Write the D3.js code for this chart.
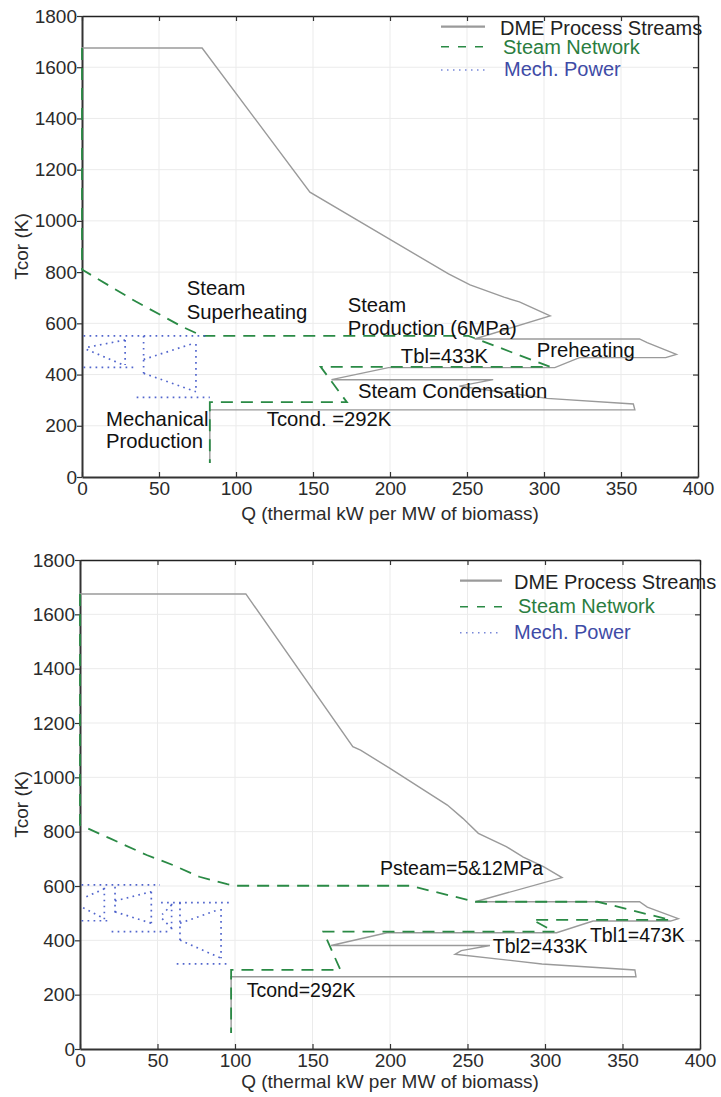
<!DOCTYPE html>
<html><head><meta charset="utf-8">
<script src="https://cdn.jsdelivr.net/npm/d3@7"></script>
<style>
body{margin:0;background:#fff}
svg{display:block}
text{font-family:"Liberation Sans",Arial,Helvetica,sans-serif}
</style>
</head><body>
<svg id="c" width="721" height="1097"></svg>
<script>
// ---------- shared ticks / labels ----------
const xTicks = [0, 50, 100, 150, 200, 250, 300, 350, 400];
const yTicks = [0, 200, 400, 600, 800, 1000, 1200, 1400, 1600, 1800];
const xTitle = "Q (thermal kW per MW of biomass)";
const yTitle = "Tcor (K)";
const legendLabels = ["DME Process Streams", "Steam Network", "Mech. Power"];

// ---------- top chart data (Q, T) ----------
const processTop = [[0,1675],[78,1675],[148,1112],[238,793],[252,750],[274,702],[284,684],[304,629],[255,539],[362,539],[367,525],[386,479],[379,466],[323,466],[307,427],[199,427],[162,380],[267,380],[245,355],[302,307],[358,285],[359,262],[83,262],[83,55]];
const steamTop = [[0,1675],[0,810],[35,685],[65,587],[78,551],[251,551],[304,430],[155,430],[172,292],[83,292],[83,55]];
const mechTop = [
  [[1,551],[81,551]],
  [[28,535],[3,506]],
  [[3,498],[27,437]],
  [[28,535],[28,437]],
  [[1,428],[35.5,428]],
  [[40,551],[40,405]],
  [[40,459],[71,519]],
  [[74,519],[74,333]],
  [[40,405],[74,333]],
  [[35.5,311],[83,311]]
];
const labelsTop = [
  ["Steam", 68, 711], ["Superheating", 68, 616],
  ["Steam", 172.5, 645], ["Production (6MPa)", 172.5, 554],
  ["Tbl=433K", 207, 444], ["Preheating", 295.3, 470],
  ["Steam Condensation", 179.2, 307], ["Tcond. =292K", 120, 200],
  ["Mechanical", 15.6, 200], ["Production", 15.6, 112]
];

// ---------- bottom chart data (Q, T) ----------
const processBottom = [[0,1675],[107,1675],[176,1113],[181,1100],[200,1033],[237,898],[247,849],[257,794],[275,745],[286,706],[299,671],[311,631],[255,542],[361,542],[366,522],[386,480],[381,471],[331,471],[307.5,428],[198,428],[162,381],[264.5,381],[246,362],[242,349],[298,313],[358,291],[358.7,266],[97.5,266],[97.5,59]];
const steamBottom = [[0,1675],[0,825],[19,776],[43,714],[60,677],[77,634],[95,607],[100,601],[213,601],[255,542],[334,542],[381,475],[292,475],[306,432],[157,432],[168,291],[97.5,291],[97.5,59]];
const mechBottom = [
  [[1,604],[51.6,604]],
  [[15.7,594],[15.7,475]],
  [[15.7,590],[2,555]],
  [[2,520],[15.7,480]],
  [[1,472],[18.3,472]],
  [[22.6,597],[22.6,487]],
  [[22.6,545],[46,579]],
  [[46,579],[46,463]],
  [[22.6,505],[46,463]],
  [[20.4,432],[59,432]],
  [[52.3,539],[96.8,539]],
  [[59.1,535],[59.1,432]],
  [[59.1,530],[53,495]],
  [[53,480],[59.1,445]],
  [[64.5,539],[64.5,401]],
  [[64.5,463],[88,510]],
  [[91,515],[91,334]],
  [[64.5,401],[91,334]],
  [[62.4,313],[94.6,313]]
];
const labelsBottom = [
  ["Tcond=292K", 107.5, 192], ["Psteam=5&12MPa", 193.5, 640],
  ["Tbl2=433K", 266.3, 352], ["Tbl1=473K", 329, 395]
];

// ---------- styles ----------
const GREY = "#9a9a9a", GREEN = "#2a8a45", BLUE = "#3f55c8";
const GREEN_TXT = "#2a7d40", BLUE_TXT = "#3e4ba6";

const svg = d3.select("#c");

function drawChart(cfg) {
  const x = d3.scaleLinear().domain([0, 400]).range([cfg.left, cfg.right]);
  const y = d3.scaleLinear().domain([0, 1800]).range([cfg.bottom, cfg.top]);
  const g = svg.append("g");

  // grid
  g.append("g").selectAll("line").data(xTicks.slice(1, -1)).join("line")
    .attr("x1", d => x(d)).attr("x2", d => x(d)).attr("y1", cfg.top).attr("y2", cfg.bottom)
    .attr("stroke", "#ebebeb").attr("stroke-width", 1);
  g.append("g").selectAll("line").data(yTicks.slice(1, -1)).join("line")
    .attr("y1", d => y(d)).attr("y2", d => y(d)).attr("x1", cfg.left).attr("x2", cfg.right)
    .attr("stroke", "#ebebeb").attr("stroke-width", 1);

  // axes
  const top = g.append("g").attr("transform", `translate(0,${cfg.top})`)
    .call(d3.axisTop(x).tickValues(xTicks).tickSizeInner(-5).tickSizeOuter(0).tickFormat(""));
  const right = g.append("g").attr("transform", `translate(${cfg.right},0)`)
    .call(d3.axisRight(y).tickValues(yTicks).tickSizeInner(-5).tickSizeOuter(0).tickFormat(""));
  [top, right].forEach(a => {
    a.select(".domain").attr("stroke", "#222").attr("stroke-width", 1.4);
    a.selectAll(".tick line").attr("stroke", "#333").attr("stroke-width", 1.2);
  });
  const bottom = g.append("g").attr("transform", `translate(0,${cfg.bottom})`)
    .call(d3.axisBottom(x).tickValues(xTicks).tickFormat(d3.format("d"))
      .tickSizeInner(-5).tickSizeOuter(0).tickPadding(4.5));
  const left = g.append("g").attr("transform", `translate(${cfg.left},0)`)
    .call(d3.axisLeft(y).tickValues(yTicks).tickFormat(d3.format("d"))
      .tickSizeInner(5).tickSizeOuter(0).tickPadding(0));
  [bottom, left].forEach(a => {
    a.select(".domain").attr("stroke", "#333").attr("stroke-width", 2);
    a.selectAll(".tick line").attr("stroke", "#333").attr("stroke-width", 1.2);
    a.selectAll(".tick text").attr("fill", "#2b2b2b").attr("font-size", 19)
      .attr("font-family", "Liberation Sans, Arial, sans-serif");
  });

  // axis titles
  g.append("text").attr("x", (cfg.left + cfg.right) / 2).attr("y", cfg.xTitleY)
    .attr("text-anchor", "middle").attr("font-size", 19).attr("fill", "#2b2b2b").text(xTitle);
  g.append("text").attr("transform", `translate(${cfg.yTitleX},${(cfg.top + cfg.bottom) / 2}) rotate(-90)`)
    .attr("text-anchor", "middle").attr("font-size", 19).attr("fill", "#2b2b2b").text(yTitle);

  const line = d3.line().x(d => x(d[0])).y(d => y(d[1]));

  // process streams
  g.append("path").datum(cfg.process).attr("d", line)
    .attr("fill", "none").attr("stroke", GREY).attr("stroke-width", 1.4).attr("stroke-linejoin", "miter");
  // steam network
  g.append("path").datum(cfg.steam).attr("d", line)
    .attr("fill", "none").attr("stroke", GREEN).attr("stroke-width", 1.8).attr("stroke-dasharray", "12,8");
  // mech power
  g.append("g").selectAll("path").data(cfg.mech).join("path").attr("d", line)
    .attr("fill", "none").attr("stroke", BLUE).attr("stroke-width", 1.7)
    .attr("stroke-dasharray", "1.7,4.3").attr("opacity", 0.9);

  // annotations
  g.append("g").selectAll("text").data(cfg.labels).join("text")
    .attr("x", d => x(d[1])).attr("y", d => y(d[2]))
    .attr("font-size", cfg.labelSize).attr("fill", "#111").text(d => d[0]);

  // legend
  const L = cfg.legend;
  const styles = [
    {stroke: GREY, dash: null, w: 2.2, fill: "#222"},
    {stroke: GREEN, dash: "8,9", w: 1.6, fill: GREEN_TXT},
    {stroke: BLUE, dash: "1.5,4.5", w: 1.6, fill: BLUE_TXT}
  ];
  legendLabels.forEach((lab, i) => {
    const s = styles[i];
    g.append("line").attr("x1", L.x0).attr("x2", L.x1).attr("y1", L.lineY[i]).attr("y2", L.lineY[i])
      .attr("stroke", s.stroke).attr("stroke-width", s.w).attr("stroke-dasharray", s.dash).attr("opacity", i === 2 ? 0.7 : 1);
    g.append("text").attr("x", L.tx[i]).attr("y", L.ty[i]).attr("font-size", 20)
      .attr("fill", s.fill).text(lab);
  });
}

drawChart({
  left: 82, right: 698, top: 16, bottom: 477,
  xTitleY: 520, yTitleX: 28,
  process: processTop, steam: steamTop, mech: mechTop,
  labels: labelsTop, labelSize: 20.3,
  legend: {x0: 441, x1: 485, lineY: [26.7, 46.7, 70], tx: [500, 503, 504], ty: [35, 53.5, 75.5]}
});

drawChart({
  left: 80, right: 700, top: 560, bottom: 1049,
  xTitleY: 1088, yTitleX: 28,
  process: processBottom, steam: steamBottom, mech: mechBottom,
  labels: labelsBottom, labelSize: 19.5,
  legend: {x0: 460, x1: 502, lineY: [580.7, 606.7, 632.7], tx: [514, 518, 514], ty: [589, 613, 639]}
});
</script>
</body></html>
